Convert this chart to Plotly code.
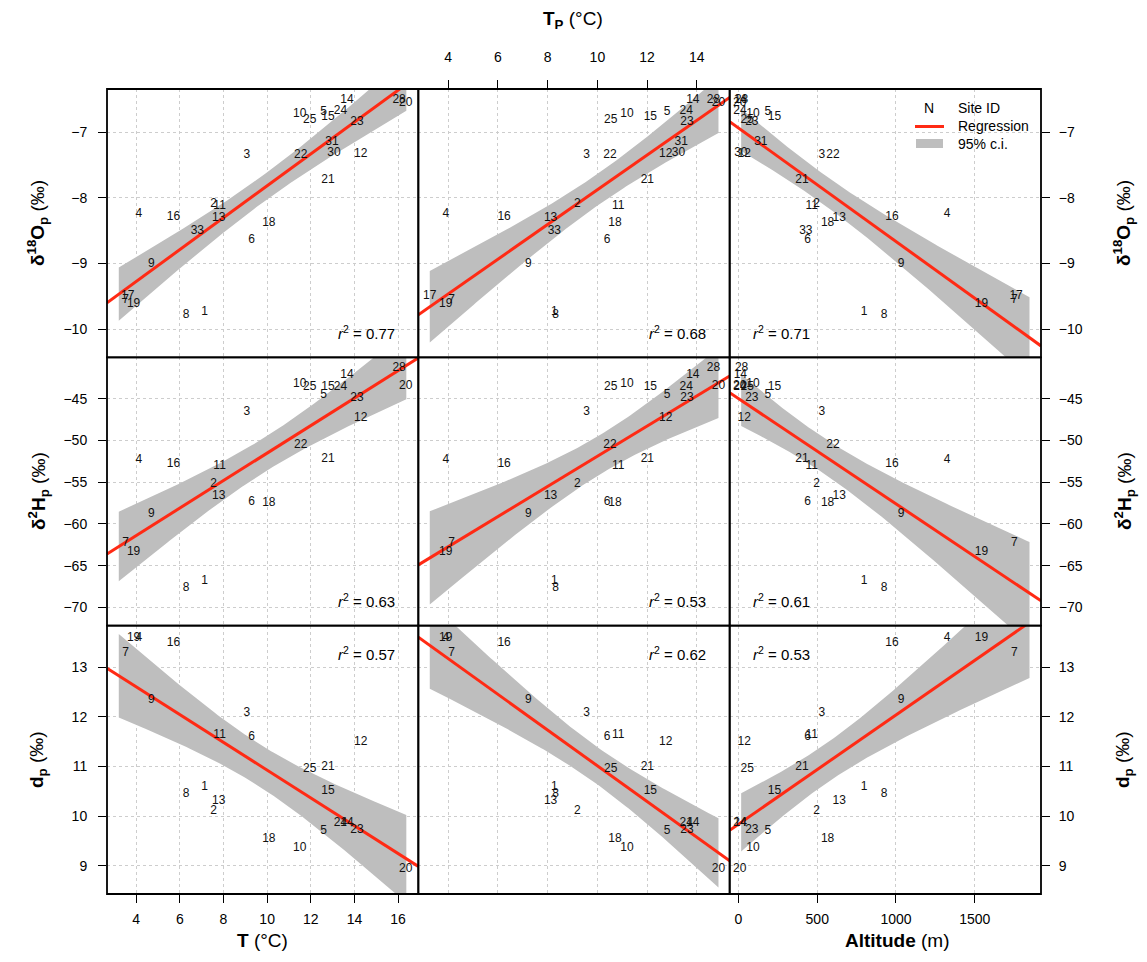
import math
import numpy as np
import plotly.graph_objects as go
from plotly.subplots import make_subplots

# ---- site data -------------------------------------------------------------
site_id = [1, 2, 3, 4, 5, 6, 7, 8, 9, 10, 11, 12, 13, 14, 15, 16, 17, 18, 19,
           20, 21, 22, 23, 24, 25, 28, 30, 31, 33]

temp_c = [7.13, 7.55, 9.07, 4.12, 12.59, 9.29, 3.51, 6.29, 4.69, 11.49, 7.82,
          14.29, 7.78, 13.66, 12.79, 5.71, 3.61, 10.08, 3.88, 16.35, 12.79,
          11.54, 14.12, 13.36, 11.95, 16.05, 13.06, 12.97, 6.80]

temp_p = [8.27, 9.19, 9.57, 3.91, 12.80, 10.39, 4.14, 8.32, 7.22, 11.19, 10.84,
          12.75, 8.12, 13.84, 12.13, 6.25, 3.26, 10.71, 3.90, 14.87, 12.01,
          10.51, 13.60, 13.57, 10.54, 14.67, 13.26, 13.37, 8.27]

altitude_m = [797, 496, 530, 1325, 187, 439, 1752, 924, 1032, 92, 465, 36, 640,
              12, 229, 975, 1763, 566, 1543, 8, 403, 600, 85, 10, 55, 20, 15,
              142, 428]

d18o_p = [-9.74, -8.09, -7.34, -8.25, -6.69, -8.64, -9.55, -9.79, -9.00, -6.72,
          -8.13, -7.33, -8.31, -6.51, -6.77, -8.29, -9.49, -8.38, -9.61, -6.55,
          -7.72, -7.35, -6.84, -6.68, -6.81, -6.50, -7.31, -7.15, -8.50]

nan = float("nan")
d2h_p = [-66.82, -55.27, -46.56, -52.35, -44.56, -57.35, -62.27, -67.73, -58.83,
         -43.27, -53.07, -47.35, -56.67, -42.16, -43.56, -52.83, nan, -57.55,
         -63.35, -43.44, -52.23, -50.55, -44.95, -43.56, -43.63, -41.36, nan,
         nan, nan]

dexcess_p = [10.58, 10.10, 12.07, 13.60, 9.69, 11.59, 13.28, 10.45, 12.35, 9.36,
             11.64, 11.50, 10.30, 9.87, 10.51, 13.50, nan, 9.54, 13.60, 8.93,
             11.00, nan, 9.73, 9.87, 10.95, nan, nan, nan, nan]

r2_values = [[0.77, 0.68, 0.71],
             [0.63, 0.53, 0.61],
             [0.57, 0.62, 0.53]]

# ---- axes --------------------------------------------------------------------
x_ranges = [[2.66, 16.93], [2.80, 15.32], [-56, 1921]]
y_ranges = [[-10.43, -6.34], [-72.19, -40.04], [8.43, 13.84]]
x_ticks = [[4, 6, 8, 10, 12, 14, 16], [4, 6, 8, 10, 12, 14], [0, 500, 1000, 1500]]
y_ticks = [[-10, -9, -8, -7], [-70, -65, -60, -55, -50, -45], [9, 10, 11, 12, 13]]
# x interval over which the confidence band is evaluated
ci_spans = [[3.20, 16.38], [3.26, 14.87], [17, 1848]]

x_columns = [temp_c, temp_p, altitude_m]
y_rows = [d18o_p, d2h_p, dexcess_p]

FONT = "Liberation Sans, Arial, Helvetica, sans-serif"
RED = "#FF2A14"
BAND = "#BEBEBE"
GRID = "#CDCDCD"

W, H = 1147, 962
ML, MR, MT, MB = 107, 106, 89, 68
PW, PH = W - ML - MR, H - MT - MB


def paper_x(px):
    return (px - ML) / PW


def paper_y(py):
    return 1 - (py - MT) / PH


def t_quantile(p, df):
    """Student t quantile by bisection on a numerically integrated CDF."""
    c = math.gamma((df + 1) / 2) / (math.sqrt(df * math.pi) * math.gamma(df / 2))

    def cdf(t):
        xs = np.linspace(0.0, t, 4001)
        pdf = c * (1 + xs ** 2 / df) ** (-(df + 1) / 2)
        return 0.5 + np.trapezoid(pdf, xs)

    lo, hi = 0.0, 20.0
    for _ in range(80):
        mid = 0.5 * (lo + hi)
        if cdf(mid) < p:
            lo = mid
        else:
            hi = mid
    return 0.5 * (lo + hi)


fig = make_subplots(rows=3, cols=3, horizontal_spacing=0, vertical_spacing=0)
shapes = []

for r in range(3):
    for c in range(3):
        x = np.array(x_columns[c], dtype=float)
        y = np.array(y_rows[r], dtype=float)
        ok = ~np.isnan(y)
        xs, ys = x[ok], y[ok]
        labels = [str(s) for s, k in zip(site_id, ok) if k]
        n = len(xs)

        slope, intercept = np.polyfit(xs, ys, 1)
        resid = ys - (intercept + slope * xs)
        s_err = math.sqrt(float(np.sum(resid ** 2)) / (n - 2))
        xm = xs.mean()
        sxx = float(np.sum((xs - xm) ** 2))
        tq = t_quantile(0.975, n - 2)

        grid = np.linspace(ci_spans[c][0], ci_spans[c][1], 120)
        fit = intercept + slope * grid
        half = tq * s_err * np.sqrt(1.0 / n + (grid - xm) ** 2 / sxx)

        fig.add_trace(go.Scatter(
            x=np.concatenate([grid, grid[::-1]]),
            y=np.concatenate([fit + half, (fit - half)[::-1]]),
            mode="lines", fill="toself", fillcolor=BAND,
            line=dict(width=0, color=BAND), hoverinfo="skip", showlegend=False),
            row=r + 1, col=c + 1)

        xl = np.array(x_ranges[c], dtype=float)
        fig.add_trace(go.Scatter(
            x=xl, y=intercept + slope * xl, mode="lines",
            line=dict(color=RED, width=3), hoverinfo="skip", showlegend=False),
            row=r + 1, col=c + 1)

        fig.add_trace(go.Scatter(
            x=xs, y=ys, mode="text", text=labels, textposition="middle center",
            textfont=dict(family=FONT, size=12, color="#111111"),
            hoverinfo="text", showlegend=False),
            row=r + 1, col=c + 1)

        # axis styling
        xa = dict(range=x_ranges[c], tickvals=x_ticks[c], showgrid=True,
                  gridcolor=GRID, griddash="dot", gridwidth=1, zeroline=False,
                  showline=False,
                  tickfont=dict(family=FONT, size=14, color="black"),
                  ticklen=8, tickwidth=1, tickcolor="black")
        if r == 2 and c in (0, 2):
            xa.update(ticks="outside", showticklabels=True, side="bottom",
                      ticklabelstandoff=4)
        elif r == 0 and c == 1:
            xa.update(ticks="outside", showticklabels=True, side="top",
                      ticklabelstandoff=12)
        else:
            xa.update(ticks="", showticklabels=False)
        fig.update_xaxes(xa, row=r + 1, col=c + 1)

        ya = dict(range=y_ranges[r], tickvals=y_ticks[r], showgrid=True,
                  gridcolor=GRID, griddash="dot", gridwidth=1, zeroline=False,
                  showline=False,
                  tickfont=dict(family=FONT, size=14, color="black"),
                  ticklen=8, tickwidth=1, tickcolor="black")
        if c == 0:
            ya.update(ticks="outside", showticklabels=True, side="left",
                      ticklabelstandoff=8)
        elif c == 2:
            ya.update(ticks="outside", showticklabels=True, side="right",
                      ticklabelstandoff=6)
        else:
            ya.update(ticks="", showticklabels=False)
        fig.update_yaxes(ya, row=r + 1, col=c + 1)

        # panel frame
        idx = r * 3 + c + 1
        sfx = "" if idx == 1 else str(idx)
        shapes.append(dict(type="rect", xref=f"x{sfx} domain",
                           yref=f"y{sfx} domain", x0=0, x1=1, y0=0, y1=1,
                           line=dict(color="black", width=1.8),
                           fillcolor="rgba(0,0,0,0)", layer="above"))

annotations = []

# r^2 labels
for r in range(3):
    for c in range(3):
        idx = r * 3 + c + 1
        sfx = "" if idx == 1 else str(idx)
        if c == 2:
            ax, xanchor = 0.07, "left"
        else:
            ax, xanchor = 0.93, "right"
        ay, yanchor = (0.94, "top") if r == 2 else (0.05, "bottom")
        annotations.append(dict(
            text=f"<i>r</i><sup>2</sup> = {r2_values[r][c]:.2f}",
            xref=f"x{sfx} domain", yref=f"y{sfx} domain", x=ax, y=ay,
            xanchor=xanchor, yanchor=yanchor, showarrow=False,
            font=dict(family=FONT, size=15, color="black")))

# axis titles
title_font = dict(family=FONT, size=19, color="black")


def centred(text, px, py, **kw):
    d = dict(text=text, xref="paper", yref="paper", x=paper_x(px),
             y=paper_y(py), xanchor="center", yanchor="middle",
             showarrow=False)
    d.update(kw)
    return d


annotations.append(centred("<b>T</b> (°C)", 262, 940, font=title_font))
annotations.append(centred("<b>Altitude</b> (m)", 897, 940, font=title_font))
annotations.append(centred("<b>T<sub>P</sub></b> (°C)", 573, 20, font=title_font))

row_titles = ["<b>δ<sup>18</sup>O<sub>p</sub></b> (‰)",
              "<b>δ<sup>2</sup>H<sub>p</sub></b> (‰)",
              "<b>d<sub>p</sub></b> (‰)"]
row_centres = [223, 491, 760]
for t, yc in zip(row_titles, row_centres):
    for xc in (38, 1124):
        annotations.append(centred(t, xc, yc, textangle=-90, font=title_font))

# key inside the upper-right panel
key_font = dict(family=FONT, size=14, color="black")
annotations.append(centred("N", 929, 108, font=key_font))
for txt, yy in (("Site ID", 108), ("Regression", 126), ("95% c.i.", 144)):
    annotations.append(dict(text=txt, xref="paper", yref="paper", x=paper_x(956),
                            y=paper_y(yy), xanchor="left", yanchor="middle",
                            showarrow=False, font=key_font))

shapes += [
    dict(type="line", xref="paper", yref="paper", x0=paper_x(915), x1=paper_x(944),
         y0=paper_y(126.5), y1=paper_y(126.5), line=dict(color=RED, width=3)),
    dict(type="line", xref="paper", yref="paper", x0=paper_x(916), x1=paper_x(943),
         y0=paper_y(143.5), y1=paper_y(143.5), line=dict(color=BAND, width=9)),
]

fig.update_layout(
    width=W, height=H,
    margin=dict(l=ML, r=MR, t=MT, b=MB),
    paper_bgcolor="white", plot_bgcolor="white",
    font=dict(family=FONT, color="black"),
    annotations=annotations, shapes=shapes,
    showlegend=False,
)

fig.write_html("out.html")
